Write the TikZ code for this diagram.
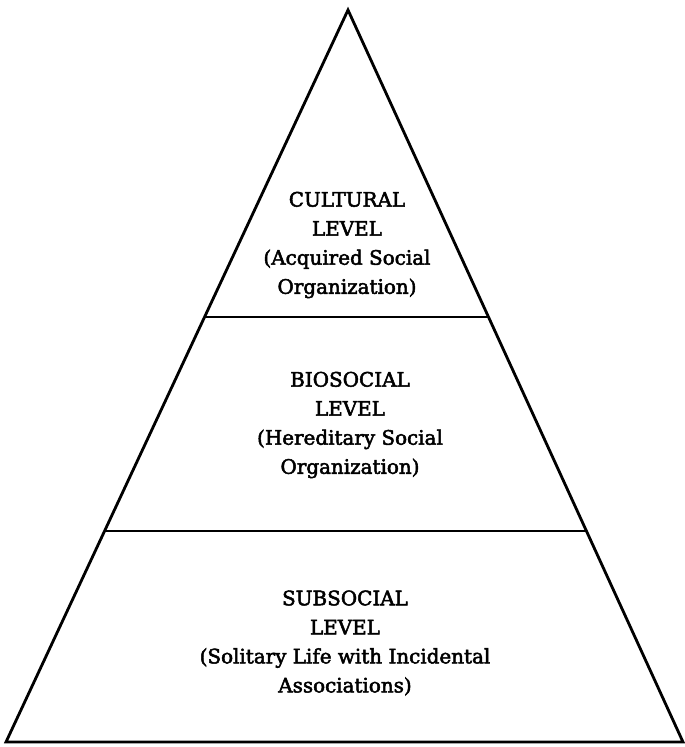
\documentclass[tikz,border=0pt]{standalone}
\usepackage{fontspec}
\setmainfont{DejaVu Serif}
\newfontfamily\levelfont[FakeBold=2.5]{DejaVu Serif}
\usepackage{tikz}
\usetikzlibrary{calc}
\tikzset{
  edge/.style={line width=2.4pt,line join=miter},
  divider/.style={line width=2pt},
  levellabel/.style={align=center,inner sep=0pt,font=\levelfont\fontsize{17}{24.8}\selectfont}
}
\begin{document}
\begin{tikzpicture}[x=0.03cm,y=-0.03cm]
\useasboundingbox (0,0) rectangle (685,747);
\coordinate (apex) at (348,10);
\coordinate (baseL) at (6,742);
\coordinate (baseR) at (683,742);
\coordinate (cutL1) at ($(apex)!0.419!(baseL)$);
\coordinate (cutR1) at ($(apex)!0.419!(baseR)$);
\coordinate (cutL2) at ($(apex)!0.712!(baseL)$);
\coordinate (cutR2) at ($(apex)!0.712!(baseR)$);
\draw[edge] (apex) -- (baseL) -- (baseR) -- cycle;
\draw[divider] (cutL1) -- (cutR1);
\draw[divider] (cutL2) -- (cutR2);
\node[levellabel] (cultural) at (347,245) {CULTURAL\\LEVEL\\(Acquired Social\\Organization)};
\node[levellabel] (biosocial) at (350,425) {BIOSOCIAL\\LEVEL\\(Hereditary Social\\Organization)};
\node[levellabel] (subsocial) at (345,643) {SUBSOCIAL\\LEVEL\\(Solitary Life with Incidental\\Associations)};
\end{tikzpicture}
\end{document}
